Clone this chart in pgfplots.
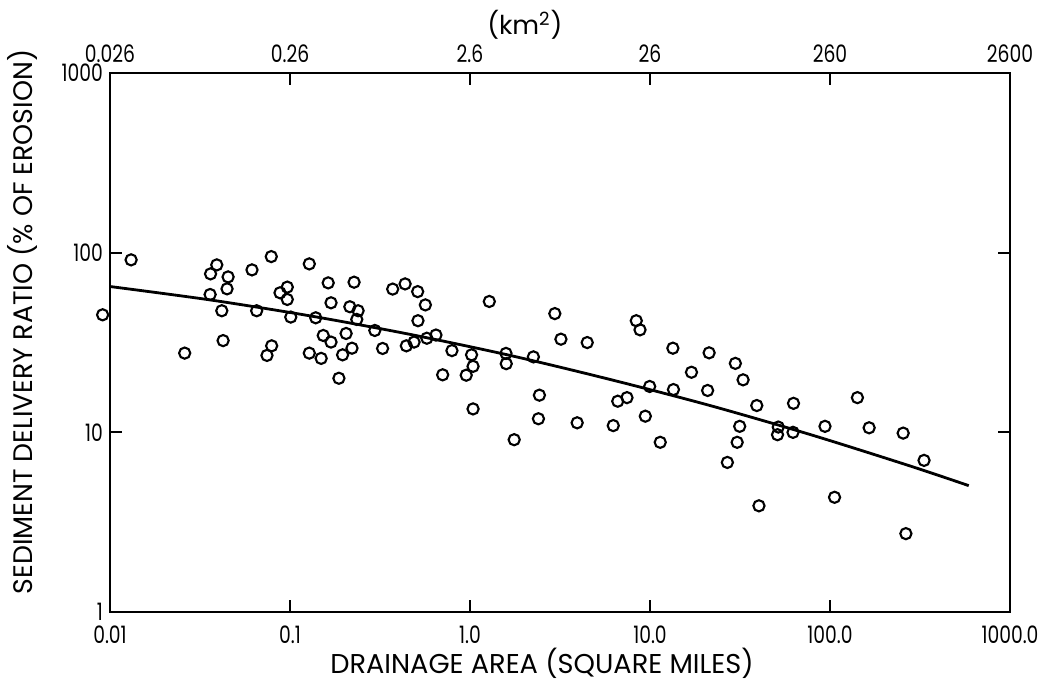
\documentclass[border=0pt]{standalone}
\usepackage{fontspec}
\setmainfont{Poppins}
\newfontfamily\tickfont[FakeStretch=0.78]{Poppins}
\usepackage{pgfplots}
\pgfplotsset{compat=1.18}

\pgfplotstableread{
x y
0.0131 91.2
0.0091 45.1
0.0392 85.5
0.0362 76.2
0.0453 73.3
0.0447 62.9
0.0360 58.5
0.0418 47.5
0.0425 32.4
0.0260 27.6
0.0615 80.2
0.0787 95.1
0.128 86.6
0.0880 59.8
0.0966 64.3
0.0966 54.9
0.0653 47.5
0.101 43.8
0.139 43.4
0.163 67.9
0.169 52.6
0.153 34.6
0.169 31.8
0.0791 30.3
0.0745 26.8
0.128 27.6
0.149 25.8
0.196 27.0
0.187 20.0
0.205 35.5
0.227 68.5
0.215 50.0
0.239 47.5
0.235 42.5
0.221 29.4
0.296 36.9
0.327 29.3
0.372 62.7
0.436 67.0
0.512 60.7
0.565 51.2
0.514 41.8
0.443 30.3
0.489 31.8
0.576 33.4
0.647 34.8
0.794 28.5
1.02 27.0
1.04 23.3
0.953 20.8
0.705 20.9
1.28 53.5
1.04 13.5
1.585 27.5
1.59 24.1
2.25 26.3
2.96 45.8
3.20 33.0
2.43 16.1
2.40 11.9
3.94 11.3
1.76 9.1
4.48 31.6
8.39 41.8
8.80 37.2
13.4 29.4
21.3 27.7
29.8 24.2
32.9 19.6
17.0 21.6
9.96 18.0
13.5 17.3
20.9 17.1
7.45 15.6
6.62 14.9
9.42 12.3
6.25 10.9
11.4 8.8
39.2 14.1
62.7 14.5
31.5 10.8
30.5 8.8
26.9 6.8
51.6 10.7
51.1 9.7
62.3 10.0
93.8 10.8
142 15.6
165 10.6
255 9.9
333 6.98
106 4.35
264 2.73
40.3 3.9
}\pts

\pgfplotstableread{
x y
0.01 64.8
0.0359 54.6
0.129 44.5
0.464 35.1
1.668 26.8
5.995 19.7
21.54 14.1
77.43 9.73
278.3 6.50
590 5.05
}\fit

\begin{document}
\begin{tikzpicture}
\useasboundingbox (-55pt,-36pt) rectangle (472pt,306pt);
\begin{axis}[
  scale only axis, width=450pt, height=269.5pt,
  xmode=log, ymode=log,
  xmin=0.01, xmax=1000, ymin=1, ymax=1000,
  xtick={0.01,0.1,1,10,100,1000},
  xticklabels={0.01,0.1,1.0,10.0,100.0,1000.0},
  ytick={1,10,100,1000},
  yticklabels={1,10,100,1000},
  minor tick style={draw=none},
  tick align=inside, major tick length=6pt,
  axis line style={line width=1pt},
  every tick/.style={black, line width=0.9pt},
  tick label style={font=\tickfont\fontsize{12}{13}\selectfont},
  xticklabel style={yshift=-3.5pt},
  xlabel={DRAINAGE AREA (SQUARE MILES)},
  xlabel style={at={(axis description cs:0.48,0)}, anchor=center, yshift=-25.5pt, font=\fontsize{13.6}{15}\selectfont},
  ylabel={SEDIMENT DELIVERY RATIO (\% OF EROSION)},
  ylabel style={at={(axis description cs:-0.0978,0.538)}, anchor=center, rotate=0, font=\fontsize{13.4}{14}\selectfont},
  clip=false,
]
\addplot[only marks, mark=o, mark size=2.8pt, mark options={line width=1.05pt, fill=white}] table[x=x,y=y]{\pts};
\addplot[line width=1.4pt, black, smooth] table[x=x,y=y]{\fit};
\end{axis}
\begin{axis}[
  scale only axis, width=450pt, height=269.5pt,
  xmode=log, xmin=0.01, xmax=1000, ymin=0, ymax=1,
  axis x line*=top, axis y line=none,
  axis line style={line width=1pt},
  xtick={0.01,0.1,1,10,100,1000},
  xticklabels={0.026,0.26,2.6,26,260,2600},
  minor tick style={draw=none},
  major tick length=0pt,
  tick label style={font=\tickfont\fontsize{12}{13}\selectfont},
  xticklabel style={yshift=1.5pt},
  xlabel={(km\textsuperscript{2})},
  xlabel style={at={(axis description cs:0.461,1)}, anchor=center, yshift=24pt, font=\fontsize{13}{14}\selectfont},
]
\end{axis}
\end{tikzpicture}
\end{document}
